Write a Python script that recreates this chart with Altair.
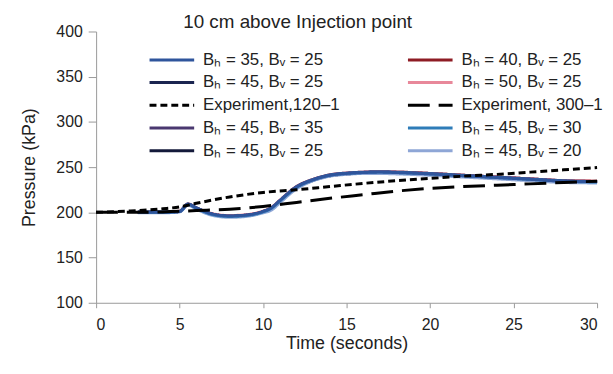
import altair as alt
import pandas as pd

# ---------------- data ----------------
t_sim = [2.5, 4, 5, 5.5, 6, 7, 8, 9, 10, 10.5, 11, 12, 13, 14, 15, 16, 17, 18, 20, 22, 24, 26, 28, 30]

b35_25 = [200, 200, 201, 209, 205, 198, 196, 197, 201, 205, 213, 228, 236, 241, 243, 244, 244.5, 244, 242.5, 240.5, 238.5, 236.5, 234.5, 234]
b40_25 = [200, 200, 201, 208.5, 204.5, 198, 196, 197, 201, 204.5, 212.5, 227.5, 236, 241, 243, 244, 244.5, 244.5, 243, 241, 239, 237, 235, 234.5]
b45_25 = [200, 200, 201, 209, 204.5, 197.5, 195.5, 196.5, 200.5, 204, 212, 227, 235.5, 240.5, 242.5, 243.5, 244, 243.5, 242, 240, 238, 236, 234, 233.5]
b50_25 = [200, 200, 201.5, 209.5, 205, 198.5, 196.5, 197.5, 201.5, 205.5, 213.5, 228.5, 236.5, 241.5, 243.5, 244.5, 245, 244.5, 243, 241, 239, 237, 235, 234.5]
b45_35 = [200, 200, 201, 209, 205, 198, 196, 197, 201, 205, 213, 228.5, 236.5, 241.5, 243.5, 244.5, 245, 244.5, 243, 241, 239, 237, 235, 234]
b45_30 = [200, 200, 201, 209, 204.5, 197.5, 195.5, 196.5, 200.5, 204.5, 212.5, 227.5, 236, 241, 243, 244, 244.5, 244, 242.5, 240.5, 238.5, 236.5, 234.5, 233.5]
b45_25b = [200, 200, 201, 208.5, 204.5, 197.5, 195.5, 196.5, 200.5, 204, 212, 227, 235.5, 240.5, 242.5, 243.5, 244, 243.5, 242, 240, 238, 236, 234, 233.5]
b45_20 = [199.5, 199.5, 200.5, 208, 203.5, 196.5, 194.5, 195.5, 199.5, 202.5, 210.5, 226, 235, 240, 242, 243, 243, 242.5, 241, 239, 237, 235, 233, 232.5]

t_exp120 = [0, 2, 4, 5, 6, 8, 10, 12, 14, 16, 18, 20, 22, 24, 26, 28, 30]
exp120 = [200, 201.5, 204, 206, 210, 217, 222, 225, 228.5, 232, 235, 237.5, 240, 242, 244.5, 247, 249.5]

t_exp300 = [0, 2, 4, 6, 8, 10, 12, 14, 16, 18, 20, 22, 24, 26, 28, 30]
exp300 = [200, 200, 200.5, 202, 203.5, 206.5, 211, 215.5, 219.5, 223.5, 226.5, 228.5, 230, 231.5, 233, 234.5]

H = "\u2095"  # subscript h
V = "\u1d65"  # subscript v
N_B35 = f"B{H} = 35, B{V} = 25"
N_B40 = f"B{H} = 40, B{V} = 25"
N_B45 = f"B{H} = 45, B{V} = 25"
N_B50 = f"B{H} = 50, B{V} = 25"
N_E120 = "Experiment,120\u20131"
N_E300 = "Experiment, 300\u20131"
N_V35 = f"B{H} = 45, B{V} = 35"
N_V30 = f"B{H} = 45, B{V} = 30"
N_V25 = f"B{H} = 45, B{V} = 25 "
N_V20 = f"B{H} = 45, B{V} = 20"

# legend order (filled column by column: left column first)
names = [N_B35, N_B45, N_E120, N_V35, N_V25,
         N_B40, N_B50, N_E300, N_V30, N_V20]
colors = ["#2f559c", "#1b2550", "#000000", "#4a3870", "#141a3a",
          "#8e1c24", "#e8889a", "#000000", "#2e7cb8", "#8ea6d6"]
dashes = [[1, 0], [1, 0], [7, 4], [1, 0], [1, 0],
          [1, 0], [1, 0], [22, 9], [1, 0], [1, 0]]

# drawing order of simulated series (bottom first)
sim_series = [
    (N_B40, b40_25), (N_B50, b50_25), (N_B45, b45_25), (N_V35, b45_35),
    (N_V25, b45_25b), (N_V20, b45_20), (N_V30, b45_30), (N_B35, b35_25),
]

rows = []
for order, (nm, vals) in enumerate(sim_series):
    for t, p in zip(t_sim, vals):
        rows.append({"series": nm, "t": t, "p": p, "o": order})
sim_df = pd.DataFrame(rows)

rows = []
for t, p in zip(t_exp120, exp120):
    rows.append({"series": N_E120, "t": t, "p": p})
for t, p in zip(t_exp300, exp300):
    rows.append({"series": N_E300, "t": t, "p": p})
exp_df = pd.DataFrame(rows)

FONT = "Liberation Sans"

x_enc = alt.X("t:Q", scale=alt.Scale(domain=[0, 30], nice=False),
              axis=alt.Axis(title="Time (seconds)", values=[0, 5, 10, 15, 20, 25, 30],
                            tickSize=5, labelPadding=9, titlePadding=2))
y_enc = alt.Y("p:Q", scale=alt.Scale(domain=[100, 400], nice=False),
              axis=alt.Axis(title="Pressure (kPa)", values=[100, 150, 200, 250, 300, 350, 400],
                            tickSize=8, labelPadding=6, titlePadding=18))

color_enc = alt.Color(
    "series:N",
    scale=alt.Scale(domain=names, range=colors),
    legend=alt.Legend(
        title=None, orient="none", legendX=68, legendY=20, columns=2,
        symbolType="M-4,0H4", symbolSize=127, symbolStrokeWidth=3,
        symbolFillColor="transparent",
        labelFontSize=17, labelFont=FONT, labelColor="#222",
        columnPadding=62, rowPadding=5, labelOffset=23, padding=0,
        labelLimit=300,
    ),
)
dash_enc = alt.StrokeDash("series:N", scale=alt.Scale(domain=names, range=dashes))

sims = alt.Chart(sim_df).mark_line(strokeWidth=3, interpolate="monotone").encode(
    x=x_enc, y=y_enc, color=color_enc, strokeDash=dash_enc, detail="o:O"
)
exps = alt.Chart(exp_df).mark_line(strokeWidth=3, interpolate="monotone").encode(
    x=x_enc, y=y_enc, color=color_enc, strokeDash=dash_enc
)

chart = alt.layer(sims, exps).properties(
    width=506, height=274,
    title=alt.TitleParams("10 cm above Injection point", anchor="start", frame="group", dx=88,
                          fontSize=19, fontWeight="normal", font=FONT, color="#222", offset=-8),
    autosize=alt.AutoSizeParams(type="none"),
    padding={"left": 89, "top": 22, "right": 8, "bottom": 50},
).configure_view(stroke=None).configure_axis(
    grid=False, domainColor="#999", tickColor="#999",
    labelFont=FONT, labelFontSize=16, labelColor="#222",
    titleFont=FONT, titleFontSize=18, titleFontWeight="normal", titleColor="#222",
)

chart.save("out.html", embed_options={"renderer": "svg", "actions": False})
